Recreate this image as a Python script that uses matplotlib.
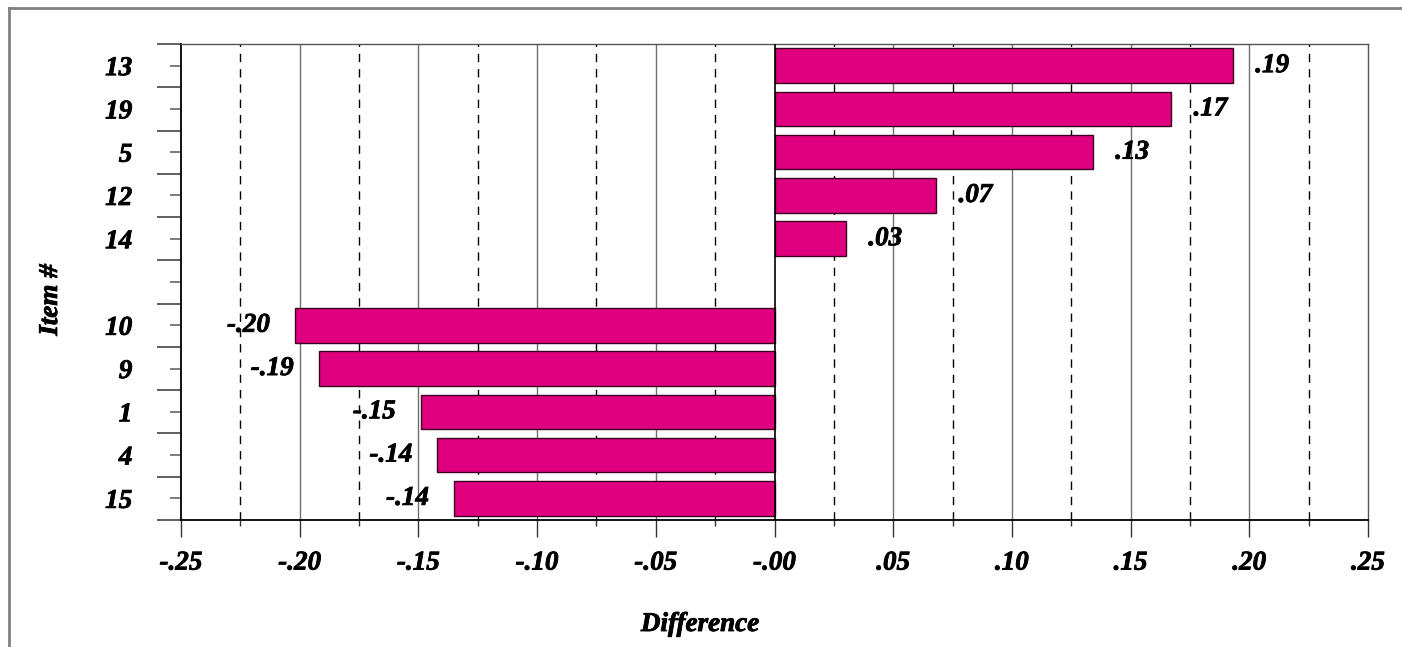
import numpy as np
import matplotlib.pyplot as plt
import matplotlib.patheffects as pe
from matplotlib.lines import Line2D

plt.rcParams['font.family'] = ['Liberation Serif', 'DejaVu Serif']

# data (blank row separates positive and negative items)
items = ['13', '19', '5', '12', '14', '', '10', '9', '1', '4', '15']
diffs = [0.193, 0.167, 0.134, 0.068, 0.030, np.nan, -0.202, -0.192, -0.149, -0.142, -0.135]
diff_labels = ['.19', '.17', '.13', '.07', '.03', '', '-.20', '-.19', '-.15', '-.14', '-.14']
xticks = [-0.25, -0.20, -0.15, -0.10, -0.05, 0.0, 0.05, 0.10, 0.15, 0.20, 0.25]
xtick_labels = ['-.25', '-.20', '-.15', '-.10', '-.05', '-.00', '.05', '.10', '.15', '.20', '.25']

fs = 19.5
# a thin stroke makes the serif text look as heavy as in the original
bold = [pe.withStroke(linewidth=0.6, foreground='black')]
font = dict(fontsize=fs, fontweight='bold', fontstyle='italic', path_effects=bold)

fig = plt.figure(figsize=(14.02, 6.47), dpi=100)
ax = fig.add_axes([181/1402, 1 - 520/647, (1368 - 181)/1402, (520 - 44)/647])

y = np.arange(len(items))

# grid: solid at .05 steps, dashed in between
for xv in xticks[1:-1]:
    if xv == 0:
        continue
    ax.axvline(xv, color='#707070', lw=1, zorder=0)
for xv in np.arange(-0.225, 0.23, 0.05):
    ax.axvline(xv, color='black', lw=1, ls=(0, (6, 5)), zorder=0)

ax.barh(y, diffs, height=0.8, color='#E0007F', edgecolor='#3a0020', lw=1, zorder=2)
ax.axvline(0, color='black', lw=1.2, zorder=3)

for yi, v, lab in zip(y, diffs, diff_labels):
    if np.isnan(v):
        continue
    if v > 0:
        ax.text(v + 0.0095, yi, lab, ha='left', va='center', zorder=4, **font)
    else:
        ax.text(v - 0.0105, yi, lab, ha='right', va='center', zorder=4, **font)

ax.set_xlim(-0.25, 0.25)
ax.set_ylim(len(items) - 0.5, -0.5)

# x axis ticks
ax.set_xticks(xticks)
ax.set_xticklabels(xtick_labels, **font)
ax.set_xticks(np.arange(-0.225, 0.23, 0.05), minor=True)
ax.tick_params(axis='x', which='major', length=12, width=1, color='#333333', pad=10)
ax.tick_params(axis='x', which='minor', length=4.5, width=1, color='#333333')

# y axis: long ticks at row boundaries, short labelled ticks at row centers
ax.set_yticks(np.arange(-0.5, len(items), 1.0))
ax.set_yticklabels([])
ax.set_yticks(y, minor=True)
ax.set_yticklabels(items, minor=True, **font)
ax.tick_params(axis='y', which='major', length=17, width=1.2, color='#444444')
ax.tick_params(axis='y', which='minor', length=8, width=1.2, color='#666666', pad=27)

for s in ['left', 'bottom']:
    ax.spines[s].set_color('black')
    ax.spines[s].set_linewidth(1.3)
for s in ['top', 'right']:
    ax.spines[s].set_color('#555555')
    ax.spines[s].set_linewidth(1)

ax.set_xlabel('Difference', labelpad=0, **font)
ax.xaxis.set_label_coords((700 - 181) / (1368 - 181), -(612 - 520) / (520 - 44))
ax.set_ylabel('Item #', **font)
ax.yaxis.set_label_coords(-(181 - 63) / (1368 - 181), (520 - 300) / (520 - 44))

# outer frame (top and left edges)
fig.add_artist(Line2D([9/1402, 1], [1 - 8/647, 1 - 8/647], color='#808080', lw=2))
fig.add_artist(Line2D([9/1402, 9/1402], [0, 1 - 8/647], color='#808080', lw=2))

fig.savefig('out.png', dpi=100)
